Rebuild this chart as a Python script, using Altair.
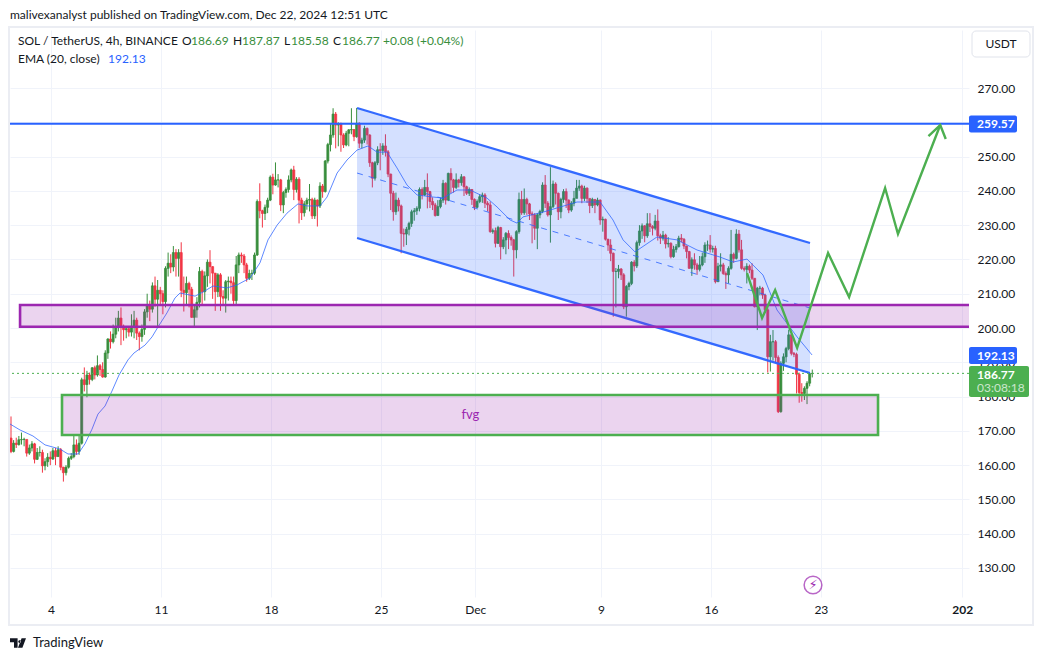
import altair as alt
import pandas as pd

first_open = 167.9
closes = [
 164,166.4,166,167.4,167.5,167.5,163.5,165,166.2,161.7,
 163.7,163.7,159.8,161,162.3,161.8,164.2,162.5,164.5,159.4,
 157.8,159.4,162,162.5,165.9,164,166.4,184.9,183.5,186.3,
 185,188.4,186.3,189,187.9,185.7,192.7,196.8,196,198.2,
 200.3,202.9,200.5,199.5,199.8,198.8,200.5,202.3,198.5,197.5,
 199.6,204.7,206.7,205.5,212.3,208.4,211,210,207.7,217.4,
 218.9,217.8,222,220.3,222,211,210.3,213,211.3,203.1,
 205.3,207.5,216.5,210.6,215.2,219.2,217.9,216,210.6,215.5,
 209.2,208.7,213.5,213.7,213.2,208,218.4,221.3,221,218.4,
 214.5,215.9,216,221.3,236.9,234.2,233.4,235.2,237.3,244,
 241.7,243.2,243.2,235.9,239.5,240.4,243.2,246.1,240.4,243.4,
 237.3,233.6,236.2,237.3,237.5,232.7,237.3,235.6,241.4,239.8,
 248.7,253.5,256.3,262.4,259.2,259.5,256.3,253.4,256.8,257.8,
 257.9,255.8,259.7,253.9,254.8,258.2,256.3,248.2,243.7,248.2,
 252,251.8,253.1,251.4,244.9,239.3,233.9,237.3,235.6,227.6,
 227.4,228.8,230.5,233.9,234.2,234.9,240.4,238.8,241,239.8,
 236.9,235.9,232.8,235.4,237.3,242.2,237.3,245.1,243.2,241,
 243.2,242.4,244.1,241.2,239.3,240.4,237.5,235.2,236.9,238.3,
 238.8,236.4,235.9,228.1,228.4,224.7,229.3,223.7,225.7,227.6,
 226.4,225.7,222.8,228.1,237.5,233.6,237.5,236.2,233.3,233,
 229.1,233,234,241.7,236.4,233,235.4,242,239.3,233.9,
 237.5,239.8,237.3,234.4,236.4,237.8,240.8,241.4,237.8,240.8,
 237.8,235.7,237.5,235.9,237.3,231.5,231.7,225.9,224.2,221.8,
 216.5,216.5,217.2,215.5,206.2,212.1,213,219.2,218.1,224.9,
 228.3,229.8,226.9,230.4,229.6,229.1,231.2,226.9,226.2,227.1,
 224.5,224.7,220.8,222.9,223.7,226.2,225.9,223.9,222.3,217.4,
 219.9,218.4,217.1,218.4,220.8,224.2,224.2,223,223.2,213.5,
 218,218.4,215.9,215.5,217.4,221.5,220.3,227.4,222.8,217.4,
 217.1,218,216.9,214.5,206.2,211.6,211.6,209.6,205.3,191.6,
 196,196,191.4,175.6,189.7,191.6,194,198,192.6,192.3,
 186.5,181.2,180.9,182.4,183.9,186.69,186.77]
highs = [
 174.2,167.3,168,168.5,169.5,168,166,166,167,166.5,
 165,165.5,164.5,162,163.5,164,165,165,165.5,165,
 159.5,160,162.5,163.5,168.8,167.5,169,185.5,188.5,187.5,
 187,188.6,189,192,189.5,190,193.5,197,199,201,
 203,205,206,201,200.5,200,204,205,203,199,
 201,205.5,210,208,213.3,215,214,212,211,218,
 222,221.5,223.9,223,223,225,215,215,213.5,212,
 206.8,209,217.8,217,216.5,220,222.7,218,216,216,
 216,211,214,215,215,215,221,222,222,221.6,
 219,217,217,222,237.5,242.2,234.5,236,238,244.5,
 245,248.3,244.9,243.5,240,241,244.5,246.5,247.3,244,
 244,238,237,238,242,238,238,237.5,242.5,242,
 249,254,259.5,264.1,263,260,259.9,256.8,257.5,258,
 264.1,258,264.2,260,255.5,259,258.5,256.5,248.5,248.7,
 253,253.9,253.9,256.5,251.9,245,240,239.5,238,236,
 229,229.5,231,234.5,235,235.5,241,241,243.2,245.1,
 240,238.1,236.5,237.3,238,243.2,242.5,245.3,246.6,243.5,
 245.1,243.5,244.9,244.2,241.5,241,240.5,237.8,237.5,239,
 239.5,239.3,237,236.9,229,229.3,229.8,229.5,226.5,228,
 228.5,227,226,228.5,239.5,240,240.7,238,236.5,234,
 233.5,233.5,234.5,242.5,244.6,237,246.9,243,242.5,239.5,
 238,240.5,240.7,237.5,237,240,243.2,243.2,241.8,241.5,
 241,237.5,238,237.5,238,237.5,232.5,231.9,226,225.9,
 222,217.5,218.4,217.5,216,212.5,213.5,219.5,219.8,225.5,
 230,230.5,230,233.5,233.5,230,233,234.6,227.5,228.3,
 227.5,226.5,225,224,224.5,226.9,227.4,226.2,224,222.5,
 220.6,221.8,219,221,222,225,225.5,227.1,224,224,
 219,221.8,219,216.5,218,228.6,222,228.8,228.6,225.7,
 218,218.9,218.5,218.9,214.5,212,212.3,212,210,206,
 198,199.4,196.5,192,190.3,192.6,194.5,199.5,198.2,193,
 192.8,187,183.9,183,184.5,186.8,187.87]
lows = [
 163.5,163.7,165,165.7,166,165.5,162.5,163,164,160.5,
 161.5,162.5,157.8,158.5,159.5,160,161.5,160,162.5,158.5,
 155.2,157,159,161.5,162,163,163,166,181.5,179.8,
 183.5,184.5,185,185.8,186,185.5,185.5,191,194,195.5,
 197,199,195,196.3,197,197.5,197.5,197,196.5,193.5,
 196,198,203,202,204.5,206.2,200,207,204,206,
 215,216,216.5,215,215,209,204.8,207,206,203,
 200,203,206,207,208,212,213,208.5,205,209,
 205,207,204.5,208,210,206.5,207,216,219,216,
 213.5,214,214,215.5,221,232,229.3,231.5,233.5,237,
 239,241.5,241,234.1,233.5,238,239.5,242.5,237.3,239.5,
 230.5,231.5,232.5,234.5,234,231.8,231.8,229.6,235,238,
 239.5,248,251.5,255.5,252.4,253,251.4,252.5,253,253,
 256.5,254.5,255.5,252.5,252.4,254,253.5,247,241,243,
 247.5,246,250.5,250,244,234.4,231.3,233,234,221.8,
 223.7,224.2,227,229.5,231.3,233,234,237.5,238.5,234.9,
 235,234.4,232.5,232.8,234.9,236.5,236,237,239.3,239.5,
 240.5,241,241.5,238.5,238.8,238.5,235.9,234.4,234.9,236.4,
 236.5,235,234,227.8,227.5,223.5,224.5,220,223,221.5,
 223,224,215,220.3,227.5,233,233,233,231.5,224.7,
 225.7,223,232,233.5,235,232.5,224.9,235,236,231.5,
 232,236.5,235,233.5,233.9,235.5,238,240,236.4,237,
 236.5,233.5,235,233.5,235.5,230.1,228.1,225.5,222.5,219.5,
 203.3,206,214.5,214,205.5,203.3,211,212.5,216.5,217.5,
 224,226,225,226.3,228,227,228.5,225.5,224.5,225.5,
 223.2,223.5,220.3,220.5,222,223.5,225,223,220.3,217.3,
 215.2,217,215.5,216.5,218,219,222.5,222,222,213,
 214,216.5,215.5,211.4,213,217,219,220,222,217,
 216.5,213,216,214,206,199.4,209.5,208.5,204.5,187,
 187.3,190.5,189.8,175.2,175.3,187.5,190,193.5,192,191.5,
 180.9,178.2,178.5,179,177.8,183,185.58]

# EMA: day number, price
ema_day = [1.39,2.03,2.85,3.62,4.57,5.08,5.72,6.16,6.61,6.99,7.44,7.88,8.33,8.90,9.28,9.98,10.43,10.81,
           11.38,11.89,12.21,13.17,13.68,14.31,15.2,15.84,16.67,17.3,17.81,18.39,19.02,19.72,20.3,21.12,
           21.57,22.21,22.84,23.48,24.18,24.75,25.39,26.02,26.66,27.3,28.32,28.95,29.84,30.67,31.75,32.39,
           33.22,33.66,34.04,35.32,37.48,38.95,39.77,40.41,41.17,42.57,43.85,45.12,46.58,47.41,48.3,49.32,
           50.21,51.49,52.44]
ema_val = [172,170.25,168.5,165.9,164.7,163.25,163.25,166.2,170.5,174.9,177.25,181.6,186.3,190.7,192.7,195,197.4,200.3,
           204.4,208.75,210.2,209.3,210.5,212.25,211.7,212.55,214.6,219,225.7,230,233.5,236.2,235.6,235.6,
           238.2,245.2,249,251.9,253.1,251.3,251.3,246.7,241.7,238.8,238.2,237.9,240.25,240.25,237.9,235.3,
           231.5,230.6,232.4,233.8,236.75,236.75,231.5,225.7,222.2,226.55,225.7,222.75,220.7,219.25,220.1,215.45,
           205.25,197.4,192.13]

tick_days = [4, 11, 18, 25, 31, 39, 46, 53, 62]
tick_text = ["4", "11", "18", "25", "Dec", "9", "16", "23", "202\u00a0\u00a0\u00a0"]
price_ticks = [130,140,150,160,170,180,190,200,210,220,230,240,250,260,270]

level_line = 259.57
last_price = 186.77
channel_days = [23.48, 52.31]
channel_top = [264.17, 224.79]
channel_bottom = [226.25, 186.87]
channel_mid = [245.2, 205.83]
purple_zone = dict(x=2.03, x2=70, y=206.71, y2=200.38)
green_zone = dict(x=4.7, x2=56.64, y=180.46, y2=168.79)
path_days = [48.30,49.26,50.09,51.49,53.46,54.80,57.09,57.91,60.60]
path_vals = [216.04,202.92,211.08,194.17,221.88,209.04,240.83,227.42,259.21]
head_days = [59.85,60.60,60.95]
head_vals = [256.0,259.21,255.12]

rows = []
prev = first_open
for i, (c, h, l) in enumerate(zip(closes, highs, lows)):
    rows.append(dict(d=1.454 + i / 6, o=prev, c=c, h=h, l=l, dir="up" if c >= prev else "down"))
    prev = c
candles = pd.DataFrame(rows)
ema = pd.DataFrame(dict(d=ema_day, p=ema_val))

FONT = "Lato"
INK = "#131722"
GREEN = "#4caf50"
CAND_G = "#388e3c"
RED = "#f23645"
BLUE = "#2962ff"
PURPLE = "#9c27b0"
GRID = "#f0f3fa"

xs = alt.Scale(domain=[1.39, 62.43], nice=False, zero=False, padding=0)
ys = alt.Scale(domain=[121.54, 286.92], nice=False, zero=False, padding=0)
cs = alt.Scale(domain=["up", "down"], range=[CAND_G, RED])

label_map = "{" + ",".join(f"'{d}':'{t}'" for d, t in zip(tick_days, tick_text)) + "}"
x_axis = alt.Axis(values=tick_days, labelExpr=f"{label_map}[datum.value]", grid=True, gridColor=GRID, gridWidth=1,
                  domain=False, ticks=False, labelPadding=7, labelFontSize=12, labelFont=FONT, labelColor=INK,
                  labelFontWeight={"condition": {"test": "datum.value == 62", "value": "bold"}, "value": "normal"},
                  labelFlush=False, labelOverlap=False, title=None, orient="bottom")
y_axis = alt.Axis(values=price_ticks, format=".2f", grid=True, gridColor=GRID, gridWidth=1, domain=False, ticks=False,
                  labelPadding=8, labelFontSize=12, labelFont=FONT, labelColor=INK, labelOverlap=False,
                  labelFlush=False, title=None, orient="right")


def X(f):
    return alt.X(f, type="quantitative", scale=xs, axis=x_axis, title=None)


def Y(f):
    return alt.Y(f, type="quantitative", scale=ys, axis=y_axis, title=None)


wicks = alt.Chart(candles).mark_rule(strokeWidth=1).encode(
    x=X("d"), y=Y("l"), y2="h:Q",
    color=alt.Color("dir:N", scale=cs, legend=None),
)
bodies = alt.Chart(candles).mark_bar(size=2, strokeWidth=0.75).encode(
    x=X("d"), y=Y("o"), y2="c:Q",
    color=alt.Color("dir:N", scale=cs, legend=None),
    stroke=alt.Color("dir:N", scale=cs, legend=None),
)
ema_line = alt.Chart(ema).mark_line(color=BLUE, strokeWidth=1, opacity=0.75).encode(x=X("d"), y=Y("p"), order="d:Q")

chan = pd.DataFrame(dict(d=channel_days, top=channel_top, bot=channel_bottom, mid=channel_mid))
chan_fill = alt.Chart(chan).mark_area(color=BLUE, opacity=0.2).encode(x=X("d"), y=Y("top"), y2="bot:Q")
chan_top = alt.Chart(chan).mark_line(color=BLUE, strokeWidth=2.3, opacity=0.95).encode(x=X("d"), y=Y("top"))
chan_bot = alt.Chart(chan).mark_line(color=BLUE, strokeWidth=2.3, opacity=0.95).encode(x=X("d"), y=Y("bot"))
chan_mid = alt.Chart(chan).mark_line(color=BLUE, strokeWidth=1, strokeDash=[6, 6], opacity=0.8).encode(x=X("d"), y=Y("mid"))


def zone(z, stroke):
    df = pd.DataFrame([z])
    return alt.Chart(df).mark_rect(fill=PURPLE, fillOpacity=0.2, stroke=stroke, strokeWidth=2.6, clip=True).encode(
        x=X("x"), x2="x2:Q", y=Y("y"), y2="y2:Q")


level = alt.Chart(pd.DataFrame(dict(p=[level_line]))).mark_rule(color=BLUE, strokeWidth=2).encode(y=Y("p"))
last_rule = alt.Chart(pd.DataFrame(dict(p=[last_price]))).mark_rule(color=GREEN, strokeWidth=1, strokeDash=[2, 3]).encode(y=Y("p"))

path = alt.Chart(pd.DataFrame(dict(d=path_days, p=path_vals, n=range(len(path_days))))).mark_line(
    color=GREEN, strokeWidth=2.4).encode(x=X("d"), y=Y("p"), order="n:Q")
head = alt.Chart(pd.DataFrame(dict(d=head_days, p=head_vals, n=range(3)))).mark_line(
    color=GREEN, strokeWidth=2.4).encode(x=X("d"), y=Y("p"), order="n:Q")

fvg = alt.Chart(pd.DataFrame(dict(d=[30.69], p=[174.6], t=["fvg"]))).mark_text(
    font=FONT, fontSize=13, color=PURPLE).encode(x=X("d"), y=Y("p"), text="t:N")


def box(x0, y0, x1, y1, **kw):
    return alt.Chart(pd.DataFrame(dict(a=[0]))).mark_rect(**kw).encode(
        x=alt.value(x0 - 10), x2=alt.value(x1 - 10), y=alt.value(y0 - 30), y2=alt.value(y1 - 30))


def txt(s, x, y, color=INK, size=12, align="left", weight="normal", font=FONT, opacity=1):
    return alt.Chart(pd.DataFrame(dict(t=[s]))).mark_text(
        font=font, fontSize=size, color=color, align=align, baseline="middle", fontWeight=weight, opacity=opacity
    ).encode(text="t:N", x=alt.value(x - 10), y=alt.value(y - 30))


frame = box(9, 27, 1033, 625, fillOpacity=0, stroke="#ebedf3", strokeWidth=2)
usdt_box = box(972, 31, 1030, 57, fillOpacity=0, stroke="#e0e3eb", strokeWidth=1, cornerRadius=4)

badge1 = box(969, 115.5, 1017, 132.5, fill=BLUE, cornerRadius=2)
badge2 = box(969, 347, 1017, 364, fill=BLUE, cornerRadius=2)
badge3 = box(969, 366, 1029, 397, fill=GREEN, cornerRadius=2)

icon = alt.Chart(pd.DataFrame(dict(a=[0]))).mark_point(shape="circle", size=314, color=PURPLE, strokeWidth=1.5, filled=False).encode(
    x=alt.value(813 - 10), y=alt.value(585 - 30))
logo = alt.Chart(pd.DataFrame(dict(a=[0]))).mark_point(
    shape="M-1,-0.6H-0.05V0.6H-0.5V-0.1H-1ZM0.45,-0.6H1L0.55,0.6H0ZM0.2,-0.35A0.17,0.17 0 1 0 0.201,-0.35Z",
    size=256, color=INK, filled=True, opacity=1).encode(x=alt.value(18 - 10), y=alt.value(643 - 30))

texts = [
    txt("malivexanalyst published on TradingView.com, Dec 22, 2024 12:51 UTC", 10, 15),
    txt("SOL / TetherUS, 4h, BINANCE", 18, 41),
    txt("O", 182, 41), txt("186.69", 191, 41, color=CAND_G),
    txt("H", 233, 41), txt("187.87", 242, 41, color=CAND_G),
    txt("L", 284, 41), txt("185.58", 291, 41, color=CAND_G),
    txt("C", 333, 41), txt("186.77", 342, 41, color=CAND_G),
    txt("+0.08 (+0.04%)", 383, 41, color=CAND_G),
    txt("EMA (20, close)", 18, 59),
    txt("192.13", 108, 59, color=BLUE),
    txt("USDT", 1001, 44, align="center"),
    txt("259.57", 977, 124, color="white", weight="bold"),
    txt("192.13", 977, 355.5, color="white", weight="bold"),
    txt("186.77", 977, 375, color="white", weight="bold"),
    txt("03:08:18", 977, 388, color="white", opacity=0.7),
    txt("\u26a1", 813, 585, color=PURPLE, size=13, align="center", font="DejaVu Sans"),
    txt("TradingView", 33, 643, size=13),
]

chart = alt.layer(
    wicks, bodies, ema_line, chan_fill, chan_top, chan_bot, chan_mid,
    zone(purple_zone, PURPLE), zone(green_zone, GREEN), level, last_rule, path, head, fvg,
    frame, usdt_box, badge1, badge2, badge3, icon, logo, *texts,
).properties(
    width=959, height=567,
    padding={"left": 2, "top": 22, "right": 65, "bottom": 53},
    autosize=alt.AutoSizeParams(type="none"),
).configure_view(stroke=None)

chart.save("out.html", embed_options={"renderer": "svg", "actions": False})
